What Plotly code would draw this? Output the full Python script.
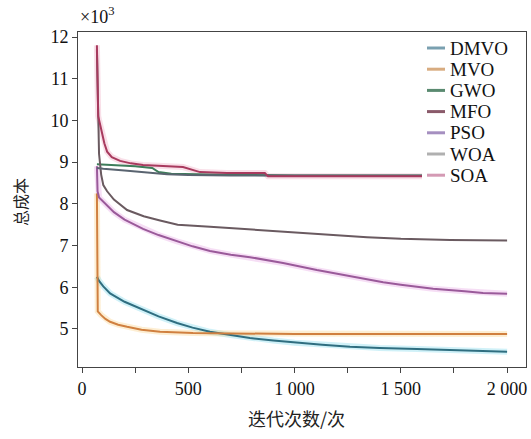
import plotly.graph_objects as go

# Convergence curves: total cost (x10^3) versus iteration count
names = ["DMVO", "MVO", "GWO", "MFO", "PSO", "WOA", "SOA"]

x_dmvo = [70, 72, 80, 100, 132, 200, 287, 360, 447, 520, 602, 700, 790, 900, 1000, 1130, 1261, 1400, 1576, 1800, 2000]
y_dmvo = [6.25, 6.22, 6.15, 6.02, 5.85, 5.65, 5.45, 5.3, 5.14, 5.03, 4.93, 4.85, 4.78, 4.72, 4.67, 4.62, 4.57, 4.54, 4.52, 4.48, 4.45]

x_mvo = [70, 71, 74, 90, 110, 132, 170, 212, 280, 367, 450, 522, 700, 1000, 2000]
y_mvo = [8.25, 5.45, 5.42, 5.33, 5.24, 5.17, 5.1, 5.05, 4.98, 4.93, 4.91, 4.9, 4.89, 4.88, 4.88]

x_gwo = [70, 150, 250, 330, 360, 420, 600, 1000, 2000]
y_gwo = [8.95, 8.93, 8.9, 8.86, 8.76, 8.72, 8.7, 8.68, 8.68]

x_mfo = [70, 75, 80, 90, 100, 118, 150, 212, 290, 367, 450, 602, 805, 900, 1058, 1200, 1341, 1500, 1732, 2000]
y_mfo = [11.7, 10.2, 9.2, 8.7, 8.45, 8.3, 8.1, 7.85, 7.7, 7.6, 7.5, 7.45, 7.38, 7.36, 7.3, 7.25, 7.2, 7.16, 7.13, 7.12]

x_pso = [70, 73, 80, 100, 118, 150, 200, 287, 360, 447, 520, 602, 700, 790, 946, 1105, 1200, 1261, 1417, 1500, 1652, 1800, 1887, 2000]
y_pso = [8.9, 8.3, 8.15, 8.05, 7.95, 7.8, 7.62, 7.4, 7.25, 7.1, 6.98, 6.87, 6.78, 6.72, 6.58, 6.41, 6.32, 6.25, 6.12, 6.06, 5.96, 5.9, 5.86, 5.84]

x_woa = [70, 100, 200, 300, 400, 500, 700, 2000]
y_woa = [8.86, 8.84, 8.8, 8.76, 8.71, 8.69, 8.68, 8.67]

x_soa = [70, 73, 76, 85, 94, 105, 118, 140, 179, 230, 287, 475, 555, 682, 860, 875, 2000]
y_soa = [11.8, 11.0, 10.1, 9.9, 9.7, 9.45, 9.25, 9.12, 9.03, 8.97, 8.93, 8.88, 8.76, 8.74, 8.74, 8.66, 8.66]

x_ticks = [0, 500, 1000, 1500, 2000]
x_ticktext = ["0", "500", "1 000", "1 500", "2 000"]
y_ticks = [5, 6, 7, 8, 9, 10, 11, 12]

series = [
    (x_dmvo, y_dmvo), (x_mvo, y_mvo), (x_gwo, y_gwo), (x_mfo, y_mfo),
    (x_pso, y_pso), (x_woa, y_woa), (x_soa, y_soa),
]
colors = ["#2f6e80", "#d08040", "#3d7d5a", "#6a5a60", "#9a5a9a", "#5a6470", "#a83a5e"]
legend_colors = ["#7aa0b0", "#d8ac80", "#5a8a70", "#8a5a6a", "#a58fc0", "#b0b0b0", "#d49ab4"]
halos = {
    "DMVO": "rgba(120,215,235,0.35)",
    "MVO": "rgba(250,205,130,0.35)",
    "PSO": "rgba(230,160,225,0.35)",
    "SOA": "rgba(235,150,180,0.30)",
}

serif = "Liberation Serif, Times New Roman, serif"
cjk = "Noto Sans CJK SC"

fig = go.Figure()

# soft coloured halo beneath some curves
for name, (xs, ys) in zip(names, series):
    if name in halos:
        fig.add_trace(go.Scatter(x=xs, y=ys, mode="lines", showlegend=False,
                                 hoverinfo="skip",
                                 line=dict(color=halos[name], width=6)))

for name, (xs, ys), c in zip(names, series, colors):
    fig.add_trace(go.Scatter(x=xs, y=ys, mode="lines", name=name,
                             showlegend=False, line=dict(color=c, width=2)))

# plot-area geometry in pixels, used to place the legend block
W, H = 531, 439
ml, mr, mt, mb = 78, 5, 32, 72
pw, ph = W - ml - mr, H - mt - mb


def px_x(p):
    return (p - ml) / pw


def px_y(p):
    return 1 - (p - mt) / ph


shapes = [dict(type="rect", xref="paper", yref="paper",
               x0=px_x(422), x1=px_x(524), y0=px_y(188), y1=px_y(36),
               fillcolor="white", line=dict(width=0), layer="above")]
annotations = []
for i, (name, lc) in enumerate(zip(names, legend_colors)):
    yc = px_y(48 + 21.2 * i)
    shapes.append(dict(type="line", xref="paper", yref="paper",
                       x0=px_x(427), x1=px_x(445), y0=yc, y1=yc,
                       line=dict(color=lc, width=3), layer="above"))
    annotations.append(dict(text=name, xref="paper", yref="paper",
                            x=px_x(448), y=yc, xanchor="left", yanchor="middle",
                            showarrow=False,
                            font=dict(family=serif, size=19, color="#111")))

annotations += [
    dict(text="×10<sup>3</sup>", xref="paper", yref="paper", x=0, y=px_y(15),
         xanchor="left", yanchor="middle", showarrow=False,
         font=dict(family=serif, size=18, color="#111")),
    dict(text="总成本", xref="paper", yref="paper", x=px_x(20), y=px_y(202),
         xanchor="center", yanchor="middle", textangle=-90, showarrow=False,
         font=dict(family=cjk, size=16, color="#222")),
    dict(text="迭代次数/次", xref="paper", yref="paper", x=px_x(296), y=px_y(418),
         xanchor="center", yanchor="middle", showarrow=False,
         font=dict(family=cjk, size=18, color="#222")),
]

axis_common = dict(showline=True, linecolor="#444", linewidth=1, mirror=True,
                   ticks="outside", ticklen=5, tickwidth=1, tickcolor="#444",
                   showgrid=False, zeroline=False,
                   tickfont=dict(family=serif, size=18, color="#111"))

fig.update_layout(
    width=W, height=H,
    margin=dict(l=ml, r=mr, t=mt, b=mb),
    paper_bgcolor="white", plot_bgcolor="white",
    xaxis=dict(range=[-19, 2089], tickvals=x_ticks, ticktext=x_ticktext,
               minor=dict(dtick=250, tick0=0, ticks="outside", ticklen=5,
                          tickwidth=1, tickcolor="#444"),
               **axis_common),
    yaxis=dict(range=[4.086, 12.12], tickvals=y_ticks,
               ticktext=[str(v) for v in y_ticks], **axis_common),
    shapes=shapes, annotations=annotations,
)

fig.write_html("out.html")
